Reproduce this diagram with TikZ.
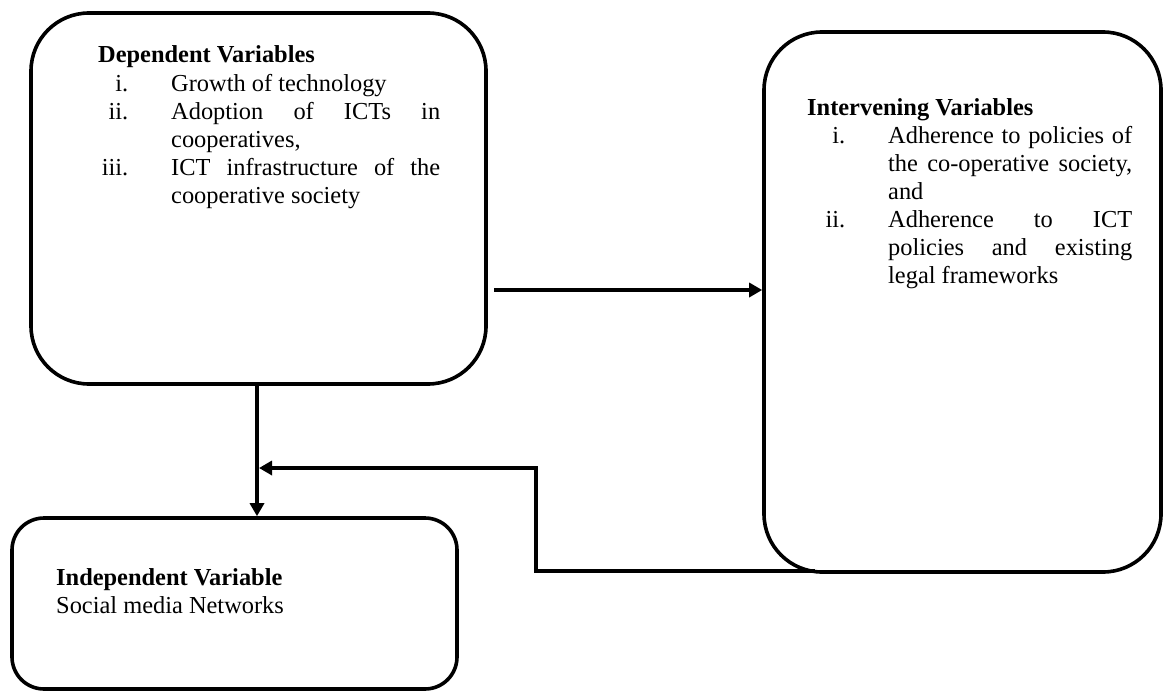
\documentclass[tikz,border=0pt]{standalone}
\usepackage{fontspec}
\setmainfont{Liberation Serif}
\usetikzlibrary{arrows.meta}
\newlength{\colwa}\setlength{\colwa}{269pt}
\newlength{\colwb}\setlength{\colwb}{244pt}
\newcommand{\jla}[1]{\makebox[\colwa][s]{#1}}
\newcommand{\jlb}[1]{\makebox[\colwb][s]{#1}}
\begin{document}
\begin{tikzpicture}[x=1pt,y=-1pt,
  box/.style={draw, line width=3.6pt, rounded corners=58pt, inner sep=0pt},
  conn/.style={line width=3.6pt, -{Triangle[length=13pt,width=14pt]}},
  txt/.style={inner sep=0pt, anchor=base west, font=\fontsize{24.4}{28.1}\selectfont}]
\useasboundingbox (0,0) rectangle (1164,693);
% boxes
\node[box, minimum width=455pt, minimum height=371pt] (dep) at (258.5,198.5) {};
\node[box, minimum width=397pt, minimum height=540pt] (int) at (962.5,302) {};
\node[box, rounded corners=32pt, minimum width=445pt, minimum height=171pt] (ind) at (234.5,603.5) {};
% texts
\node[txt] (deptxt) at (98,63) {\begin{tabular}[t]{@{}r@{\hspace{43pt}}l@{}}
\multicolumn{2}{@{}l@{}}{\bfseries Dependent Variables}\\
\makebox[30pt][r]{i.} & Growth of technology\\
ii. & \jla{Adoption of ICTs in}\\
 & cooperatives,\\
iii. & \jla{ICT infrastructure of the}\\
 & cooperative society
\end{tabular}};
\node[txt] (inttxt) at (807,115) {\begin{tabular}[t]{@{}r@{\hspace{43pt}}l@{}}
\multicolumn{2}{@{}l@{}}{\bfseries Intervening Variables}\\
\makebox[38pt][r]{i.} & \jlb{Adherence to policies of}\\
 & \jlb{the co-operative society,}\\
 & and\\
ii. & \jlb{Adherence to ICT}\\
 & \jlb{policies and existing}\\
 & legal frameworks
\end{tabular}};
\node[txt] (indtxt) at (56,585) {\begin{tabular}[t]{@{}l@{}}
\bfseries Independent Variable\\
Social media Networks
\end{tabular}};
% connectors
\coordinate (vx) at (257,0);
\coordinate (hs) at (494,290);
\coordinate (fb0) at (815,571);
\coordinate (fb1) at (536,468);
\draw[conn] (hs) -- (hs -| int.west);
\draw[conn] (dep.south -| vx) -- (ind.north -| vx);
\draw[conn] (fb0) -| (fb1) -- ([xshift=2pt]fb1 -| vx);
\end{tikzpicture}
\end{document}
